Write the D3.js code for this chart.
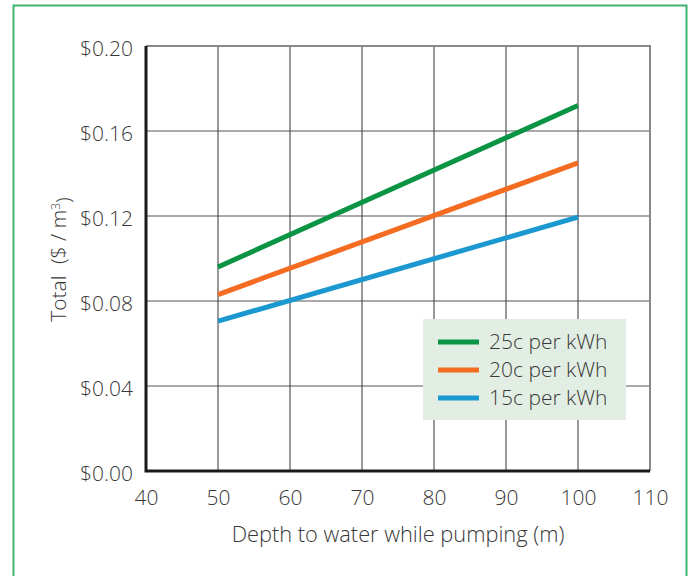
<!DOCTYPE html>
<html>
<head>
<meta charset="utf-8">
<script src="https://cdn.jsdelivr.net/npm/d3@7"></script>
<style>
  body { margin: 0; background: #fff; }
  svg { display: block; }
  text { font-family: "Open Sans", sans-serif; font-weight: 300; fill: #383838; }
</style>
</head>
<body>
<svg id="chart" width="691" height="576"></svg>
<script>
const depths = [50, 100];
const seriesNames = ["25c per kWh", "20c per kWh", "15c per kWh"];
const cost25 = [0.096, 0.172];
const cost20 = [0.083, 0.145];
const cost15 = [0.0705, 0.1195];
const seriesColors = ["#0b9444", "#f36c21", "#1b98d0"];
const xTicks = [40, 50, 60, 70, 80, 90, 100, 110];
const yTicks = [0, 0.04, 0.08, 0.12, 0.16, 0.20];

const series = [cost25, cost20, cost15].map((vals, i) => ({
  name: seriesNames[i], color: seriesColors[i],
  points: depths.map((d, j) => ({ x: d, y: vals[j] }))
}));

const FONT = "'Open Sans', sans-serif";
const FS = "21px";
const TXT = "#383838";

const svg = d3.select("#chart");
const margin = { left: 146, right: 41, top: 46, bottom: 105 };
const W = 691, H = 576;
const x = d3.scaleLinear().domain([40, 110]).range([margin.left, W - margin.right]);
const y = d3.scaleLinear().domain([0, 0.20]).range([H - margin.bottom, margin.top]);

// outer frame
svg.append("path")
  .attr("d", `M13.5,${H + 5} L13.5,5.5 L686.5,5.5 L686.5,${H + 5}`)
  .attr("fill", "none").attr("stroke", "#3cb371").attr("stroke-width", 2);

// horizontal grid
svg.append("g").selectAll("line").data(yTicks.filter(t => t > 0 && t < 0.2)).join("line")
  .attr("x1", x(40)).attr("x2", x(110))
  .attr("y1", d => y(d)).attr("y2", d => y(d))
  .attr("stroke", "#555").attr("stroke-width", 1);

// vertical grid
svg.append("g").selectAll("line").data(xTicks.filter(t => t > 40 && t < 110)).join("line")
  .attr("x1", d => x(d)).attr("x2", d => x(d))
  .attr("y1", y(0)).attr("y2", y(0.20))
  .attr("stroke", "#333").attr("stroke-width", 1);

// top & right border
svg.append("path")
  .attr("d", `M${x(40)},${y(0.2)} L${x(110)},${y(0.2)} L${x(110)},${y(0)}`)
  .attr("fill", "none").attr("stroke", "#888").attr("stroke-width", 2);

// axes (thick black)
svg.append("path")
  .attr("d", `M${x(40)},${y(0.2)} L${x(40)},${y(0)} L${x(110)},${y(0)}`)
  .attr("fill", "none").attr("stroke", "#1a1a1a").attr("stroke-width", 3);

// axis tick labels via d3 axes
const xAxis = d3.axisBottom(x).tickValues(xTicks).tickSize(0).tickPadding(19).tickFormat(d3.format("d"));
const gx = svg.append("g").attr("transform", `translate(0,${y(0)})`).call(xAxis);
gx.select(".domain").remove();
gx.selectAll("text").style("font-size", FS).attr("fill", TXT).style("font-family", FONT);

const yAxis = d3.axisLeft(y).tickValues(yTicks).tickSize(0).tickPadding(13).tickFormat(d => "$" + d3.format(".2f")(d));
const gy = svg.append("g").attr("transform", `translate(${x(40)},0)`).call(yAxis);
gy.select(".domain").remove();
gy.selectAll("text").style("font-size", FS).attr("fill", TXT).style("font-family", FONT).attr("dy", "0.46em");

// lines
const line = d3.line().x(d => x(d.x)).y(d => y(d.y));
svg.append("g").selectAll("path").data(series).join("path")
  .attr("d", d => line(d.points))
  .attr("fill", "none").attr("stroke", d => d.color).attr("stroke-width", 5);

// legend
const lg = svg.append("g");
lg.append("rect").attr("x", 423).attr("y", 319).attr("width", 203).attr("height", 101).attr("fill", "#e2eee3");
series.forEach((s, i) => {
  const cy = 342 + i * 28;
  lg.append("line").attr("x1", 438).attr("x2", 479).attr("y1", cy).attr("y2", cy)
    .attr("stroke", s.color).attr("stroke-width", 5);
  lg.append("text").attr("x", 489).attr("y", cy).attr("dy", "0.35em")
    .style("font-size", FS).text(s.name);
});

// axis titles
svg.append("text").attr("x", (x(40) + x(110)) / 2).attr("y", 542)
  .attr("text-anchor", "middle").style("font-size", "21.8px")
  .text("Depth to water while pumping (m)");

const yt = svg.append("text")
  .attr("transform", `translate(66,${(y(0) + y(0.2)) / 2 + 1}) rotate(-90)`)
  .attr("text-anchor", "middle").style("font-size", FS);
yt.append("tspan").text("Total");
yt.append("tspan").attr("dx", 6).text(" ($ / m");
yt.append("tspan").attr("dy", "-0.5em").style("font-size", "12px").text("3");
yt.append("tspan").attr("dy", "0.5em").text(")");
</script>
</body>
</html>
